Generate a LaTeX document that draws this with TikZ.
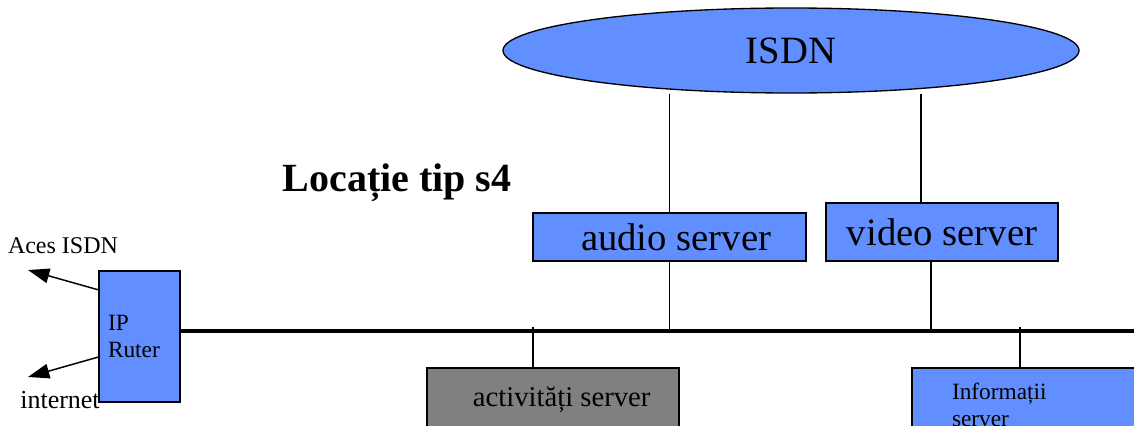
\documentclass[tikz,border=0pt]{standalone}
\usepackage{fontspec}
\setmainfont{Liberation Serif}
\usetikzlibrary{arrows.meta,positioning,shapes.geometric,backgrounds}
\definecolor{netblue}{RGB}{98,143,255}
\definecolor{srvgray}{RGB}{128,128,128}
\begin{document}
\begin{tikzpicture}[x=0.75pt,y=-0.75pt,>={Triangle[length=16pt,width=11pt]},
bx/.style={draw,fill=netblue,line width=1pt,inner sep=0pt},
ln/.style={line width=1.1pt},
bus/.style={line width=3pt},
big/.style={font=\fontsize{29}{32}\selectfont},
sm/.style={font=\fontsize{17.5}{20}\selectfont},
lbl/.style={font=\fontsize{18}{20}\selectfont}]
\useasboundingbox (0,0) rectangle (1134,425);
\clip (0,0) rectangle (1134,425);
% network and servers
\node[ellipse,bx,minimum width=432pt,minimum height=63.75pt,big] (isdn) at (791,50.5) {ISDN\hspace{15pt}};
\node[bx,minimum width=204.75pt,minimum height=36pt,big] (audio) at (669.5,237) {\hspace{10pt}audio server};
\node[bx,minimum width=174pt,minimum height=43.5pt,big] (video) at (942,232) {video server};
\node[bx,minimum height=98.25pt,sm,align=left,text width=47.25pt,inner xsep=6.75pt] (rtr) at (139.5,336.5) {IP\\Ruter};
\node[bx,fill=srvgray,minimum width=189pt,minimum height=48pt,font=\fontsize{21.5}{24}\selectfont] (act) at (553,400) {\hspace{13pt}activități server};
\node[bx,minimum height=55.5pt,sm,align=left,text width=118.5pt,inner xsep=30pt] (info) at (1031,405) {Informații\\server};
\node[font=\bfseries\fontsize{30}{34}\selectfont] (title) at (397,183) {Locație tip s4};
\node[lbl] (aces) at (63,246) {Aces ISDN};
\node[font=\fontsize{19.5}{22}\selectfont] (inet) at (60,400) {internet};
\coordinate (busend) at (1140,331);
\coordinate (acesend) at (28,270);
\coordinate (inetend) at (28,377);
% links
\draw[bus] (rtr.east |- busend) -- (busend);
\begin{scope}[on background layer]
\draw[ln] (audio.north) -- (audio.north |- isdn.south);
\draw[ln] ([xshift=-15.75pt]video.north) -- ([xshift=-15.75pt]video.north |- isdn.south);
\end{scope}
\draw[ln] (audio.south) -- (audio.south |- busend);
\draw[ln] ([xshift=-8.25pt]video.south) -- ([xshift=-8.25pt]video.south |- busend);
\draw[ln] ([xshift=-15pt]act.north) -- ([xshift=-15pt,yshift=3pt]act.north |- busend);
\draw[ln] ([xshift=-8.25pt]info.north) -- ([xshift=-8.25pt,yshift=3pt]info.north |- busend);
\draw[ln,->] ([yshift=35pt]rtr.west) -- (acesend);
\draw[ln,->] ([yshift=-15.4pt]rtr.west) -- (inetend);
\end{tikzpicture}
\end{document}
